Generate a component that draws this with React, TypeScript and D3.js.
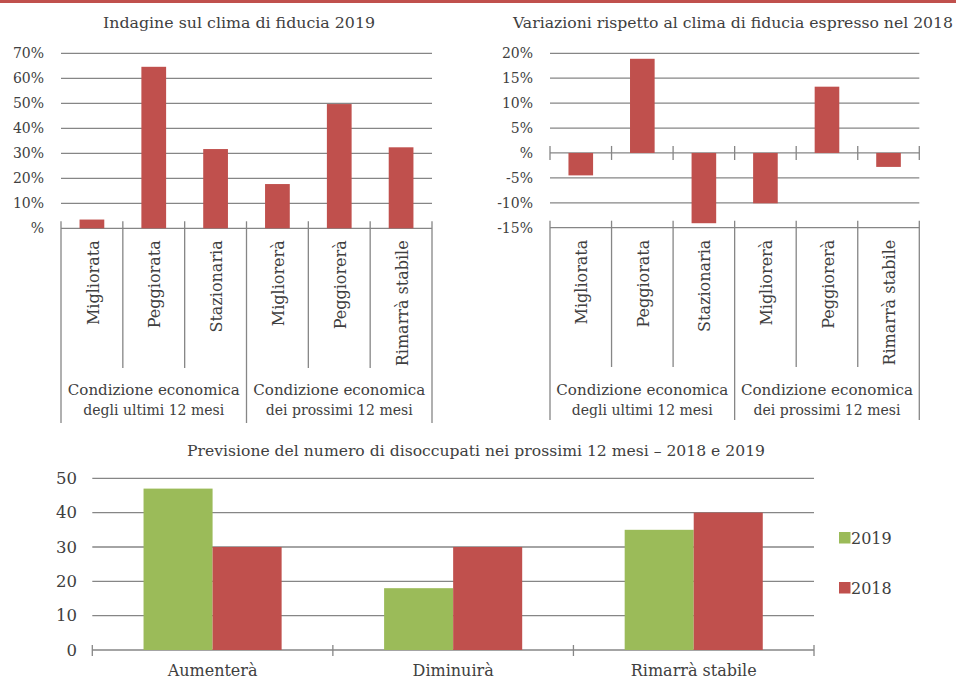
import React from "react";
import * as d3 from "d3";

const cats1 = ["Migliorata", "Peggiorata", "Stazionaria", "Migliorerà", "Peggiorerà", "Rimarrà stabile"];
const groups1 = [["Condizione economica", "degli ultimi 12 mesi"], ["Condizione economica", "dei prossimi 12 mesi"]];
const values1 = [0.035, 0.646, 0.317, 0.177, 0.497, 0.324];
const ticks1 = [0, 0.1, 0.2, 0.3, 0.4, 0.5, 0.6, 0.7];
const values2 = [-0.045, 0.189, -0.141, -0.101, 0.133, -0.028];
const ticks2 = [-0.15, -0.1, -0.05, 0, 0.05, 0.1, 0.15, 0.2];
const cats3 = ["Aumenterà", "Diminuirà", "Rimarrà stabile"];
const series3 = ["2019", "2018"];
const v2019 = [47, 18, 35];
const v2018 = [30, 30, 40];
const ticks3 = [0, 10, 20, 30, 40, 50];

const title1 = "Indagine sul clima di fiducia 2019";
const title2 = "Variazioni rispetto al clima di fiducia espresso nel 2018";
const title3 = "Previsione del numero di disoccupati nei prossimi 12 mesi – 2018 e 2019";

const RED = "#C0504D";
const GREEN = "#9BBB59";
const GRID = "#868686";
const TXT = "#404040";
const FONT = "'DejaVu Serif', 'Liberation Serif', serif";

const pct = (v: number) => (Math.round(v * 100) === 0 ? "%" : `${Math.round(v * 100)}%`);

function CatChart({ values, ticks, domain, x0, x1, yTop, yBot, labelRight, zeroTicks, innerEnd, outerEnd }: any) {
  const y = d3.scaleLinear().domain(domain).range([yBot, yTop]);
  const x = d3.scaleBand<string>().domain(cats1).range([x0, x1]).padding(0);
  const bw = x.bandwidth() * 0.4;
  const bottom = y(domain[0]);
  const boundaries = d3.range(cats1.length + 1).map((i) => x0 + i * x.step());
  return (
    <g>
      {ticks.map((t: number) => (
        <g key={t}>
          <line x1={x0} x2={x1} y1={y(t)} y2={y(t)} stroke={GRID} strokeWidth={1.3} />
          <text x={labelRight} y={y(t)} dy="0.35em" textAnchor="end" fontSize={14} fill={TXT}>
            {pct(t)}
          </text>
        </g>
      ))}
      {values.map((v: number, i: number) => (
        <rect key={i} x={x(cats1[i])! + (x.bandwidth() - bw) / 2} width={bw}
          y={Math.min(y(v), y(0))} height={Math.abs(y(v) - y(0))} fill={RED} />
      ))}
      {zeroTicks && boundaries.map((b, i) => (
        <line key={"z" + i} x1={b} x2={b} y1={y(0) - 7} y2={y(0) + 7} stroke={GRID} strokeWidth={1.3} />
      ))}
      {boundaries.map((b, i) => (
        <line key={"b" + i} x1={b} x2={b} y1={bottom - 7} y2={i % 3 === 0 ? outerEnd : innerEnd} stroke={GRID} strokeWidth={1.3} />
      ))}
      {cats1.map((c) => (
        <text key={c} transform={`translate(${x(c)! + x.bandwidth() / 2 + 1},${bottom + 12}) rotate(-90)`}
          textAnchor="end" dy="0.35em" fontSize={16} fill={TXT}>
          {c}
        </text>
      ))}
      {groups1.map((g, i) => {
        const cx = (boundaries[i * 3] + boundaries[i * 3 + 3]) / 2;
        return (
          <g key={i}>
            <text x={cx} y={395} textAnchor="middle" fontSize={14} fill={TXT} textLength={172} lengthAdjust="spacingAndGlyphs">{g[0]}</text>
            <text x={cx} y={415} textAnchor="middle" fontSize={14} fill={TXT}>{g[1]}</text>
          </g>
        );
      })}
    </g>
  );
}

function GroupChart() {
  const y = d3.scaleLinear().domain([0, 50]).range([650, 478.3]);
  const x0 = d3.scaleBand<string>().domain(cats3).range([92.3, 814]).padding(0);
  const gw = x0.bandwidth() * 0.574;
  const x1 = d3.scaleBand<string>().domain(series3).range([0, gw]).padding(0);
  const data = [v2019, v2018];
  const colors = [GREEN, RED];
  const boundaries = d3.range(cats3.length + 1).map((i) => 92.3 + i * x0.step());
  return (
    <g>
      <text x={476} y={456} textAnchor="middle" fontSize={14} fill={TXT} textLength={578} lengthAdjust="spacingAndGlyphs">{title3}</text>
      {ticks3.map((t) => (
        <g key={t}>
          <line x1={92.3} x2={814} y1={y(t)} y2={y(t)} stroke={GRID} strokeWidth={1.3} />
          <text x={77} y={y(t)} dy="0.35em" textAnchor="end" fontSize={16.5} fill={TXT}>{t}</text>
        </g>
      ))}
      {cats3.map((c, i) => (
        <g key={c}>
          {series3.map((s, j) => (
            <rect key={s} x={x0(c)! + (x0.bandwidth() - gw) / 2 + x1(s)!} width={x1.bandwidth()}
              y={y(data[j][i])} height={y(0) - y(data[j][i])} fill={colors[j]} />
          ))}
          <text x={x0(c)! + x0.bandwidth() / 2} y={676} textAnchor="middle" fontSize={16} fill={TXT}>{c}</text>
        </g>
      ))}
      {boundaries.map((b, i) => (
        <line key={i} x1={b} x2={b} y1={645} y2={656} stroke={GRID} strokeWidth={1.3} />
      ))}
      {series3.map((s, j) => (
        <g key={s}>
          <rect x={839} y={532 + j * 50} width={11.5} height={11.5} fill={colors[j]} />
          <text x={851} y={538 + j * 50} dy="0.35em" fontSize={16} fill={TXT}>{s}</text>
        </g>
      ))}
    </g>
  );
}

export default function App() {
  return (
    <svg width={956} height={681} style={{ position: "absolute", left: 0, top: 0, background: "#fff" }} fontFamily={FONT}>
      <rect x={0} y={0} width={956} height={681} fill="#fff" />
      <rect x={0} y={0} width={956} height={3} fill={RED} />
      <text x={239} y={28} textAnchor="middle" fontSize={14} fill={TXT} textLength={272} lengthAdjust="spacingAndGlyphs">{title1}</text>
      <text x={733} y={28} textAnchor="middle" fontSize={14} fill={TXT} textLength={440} lengthAdjust="spacingAndGlyphs">{title2}</text>
      <CatChart values={values1} ticks={ticks1} domain={[0, 0.7]} x0={61} x1={432} yTop={53.3} yBot={228.3}
        labelRight={44} zeroTicks={false} innerEnd={368} outerEnd={423} />
      <CatChart values={values2} ticks={ticks2} domain={[-0.15, 0.2]} x0={550} x1={919.3} yTop={53.3} yBot={227.7}
        labelRight={533} zeroTicks={true} innerEnd={367} outerEnd={420} />
      <GroupChart />
    </svg>
  );
}
